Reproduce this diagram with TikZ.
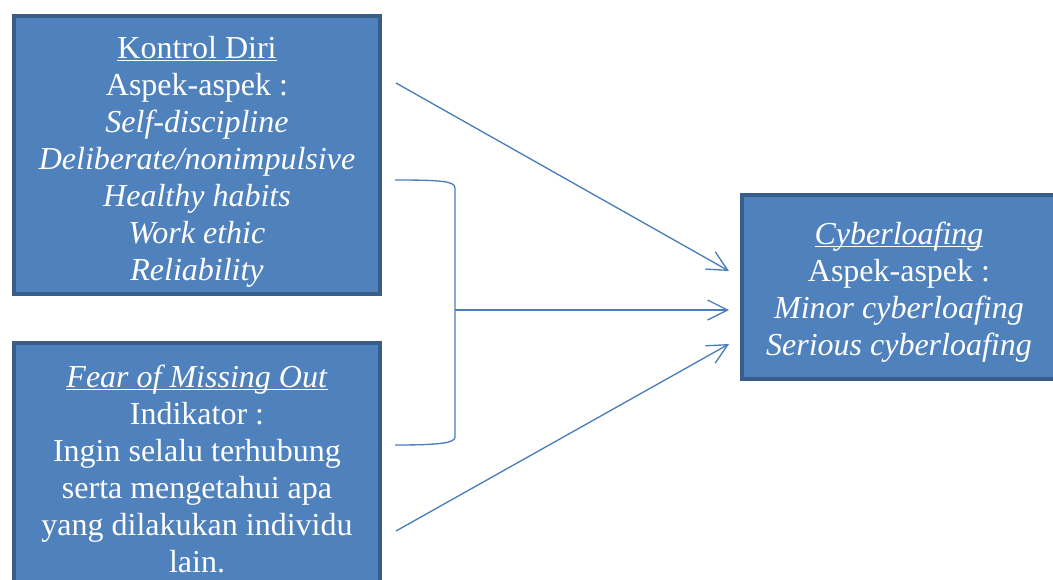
\documentclass[tikz,border=0pt]{standalone}
\usepackage{fontspec}
\setmainfont{Liberation Serif}
\usepackage{xcolor}
\usepackage{tikz}
\usetikzlibrary{arrows.meta, calc}

\definecolor{isi}{HTML}{4F81BD}
\definecolor{tepi}{HTML}{385D8A}
\definecolor{garis}{HTML}{4A7EBB}
\newcommand{\gb}[1]{\underline{\smash{#1}}}

\begin{document}
\begin{tikzpicture}[
    x = 0.75pt, y = -0.75pt,
    kotak/.style = {
        draw=tepi, line width=3pt, fill=isi, inner sep=0pt,
        minimum width=274.5pt
    },
    teks/.style = {
        text=white, align=center, inner sep=0pt,
        font=\fontsize{24}{27.75}\selectfont
    },
    panah/.style = {garis, line width=1pt, -{Straight Barb[length=15pt, width=15pt]}}
  ]
    \useasboundingbox (0,0) rectangle (1053,579);
    \clip (0,0) rectangle (1053,579);

    \node[kotak, minimum height=208.5pt] (kontrol) at (197,155) {};  % variabel X1
    \node[kotak, minimum height=186pt] (fomo) at (197,467) {};       % variabel X2
    \node[kotak, minimum width=235.5pt, minimum height=138pt] (cyber) at (899,287) {};  % variabel Y

    \node[teks] (kontrol-teks) at ($(kontrol.center)+(0,18)$) {%
        \gb{Kontrol Diri}\\ Aspek-aspek :\\ \textit{Self-discipline}\\
        \textit{Deliberate/nonimpulsive}\\ \textit{Healthy habits}\\
        \textit{Work ethic}\\ \textit{Reliability}};
    \node[teks] (fomo-teks) at ($(fomo.center)+(0,13)$) {%
        \gb{\textit{Fear of Missing Out}}\\ Indikator :\\ Ingin selalu terhubung\\
        serta mengetahui apa\\ yang dilakukan individu\\ lain.};
    \node[teks] (cyber-teks) at ($(cyber.center)+(0,16)$) {%
        \gb{\textit{Cyberloafing}}\\ Aspek-aspek :\\ \textit{Minor cyberloafing}\\
        \textit{Serious cyberloafing}};

    \coordinate (a1) at (396,83);   % dari kontrol diri
    \coordinate (a3) at (396,531);  % dari fomo
    \coordinate (k1) at (395,180);  % kurung atas
    \coordinate (k2) at (395,445);  % kurung bawah
    \coordinate (ks) at (455,310);  % tengah kurung
    \coordinate (t1) at (729,271);
    \coordinate (t2) at (729,310);
    \coordinate (t3) at (729,344);

    \draw[panah] (a1) -- (t1);
    \draw[panah] (ks) -- (t2);
    \draw[panah] (a3) -- (t3);
    \draw[garis, line width=1pt] (k1) .. controls (440,180) and (455,181) .. (455,188)
        -- (455,437) .. controls (455,443) and (440,445) .. (k2);  % kurung simultan
\end{tikzpicture}
\end{document}
